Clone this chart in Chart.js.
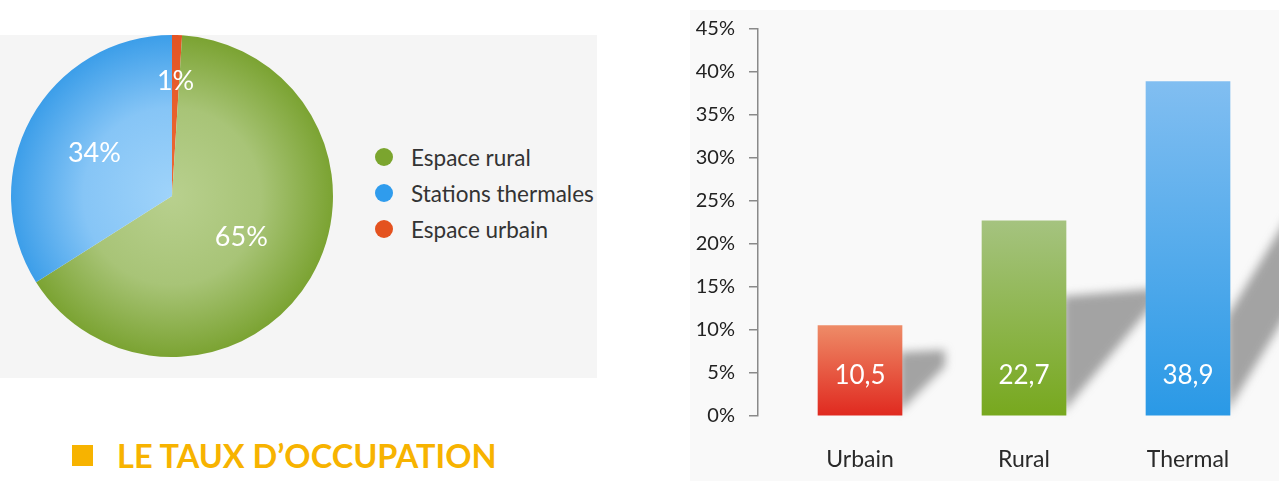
<!DOCTYPE html>
<html>
<head>
<meta charset="utf-8">
<script src="https://cdn.jsdelivr.net/npm/chart.js@4.4.1/dist/chart.umd.min.js"></script>
<style>
    body{margin:0;width:1279px;height:481px;background:#fff;position:relative;overflow:hidden;font-family:Lato,"Open Sans",sans-serif}
    #piePanel{position:absolute;left:0;top:35px;width:597px;height:343px;background:#f5f5f5}
    #pieBox{position:absolute;left:0;top:35px;width:344px;height:322px}
    #legend{position:absolute;left:375px;top:139px}
    .leg{display:flex;align-items:center;height:36px;font-size:22.5px;color:#333}
    .dot{width:18px;height:18px;border-radius:50%;margin-right:18px}
    #barPanel{position:absolute;left:690px;top:10px;width:589px;height:471px;background:#f9f9f9}
    #barBox{position:absolute;left:690px;top:0;width:589px;height:481px}
    #title{position:absolute;left:72px;top:436px;display:flex;align-items:center;color:#f7b300;font-weight:bold;font-size:32.5px}
    #title .sq{width:21px;height:21px;background:#f7b300;margin-right:24px}
</style>
</head>
<body>
<div id="piePanel"></div>
<div id="pieBox"><canvas id="pieChart"></canvas></div>
<div id="legend"></div>
<div id="barPanel"></div>
<div id="barBox"><canvas id="barChart"></canvas></div>
<div id="title"><span class="sq"></span><span>LE TAUX D’OCCUPATION</span></div>

<script>
// --------- DONNÉES ----------
// camembert (ordre horaire depuis midi)
const pieLabels = ["Espace urbain", "Espace rural", "Stations thermales"];
const pieValues = [1, 65, 34];
const legendOrder = ["Espace rural", "Stations thermales", "Espace urbain"];

// barres
const barLabels = ["Urbain", "Rural", "Thermal"];
const barValues = [10.5, 22.7, 38.9];
const yMin = 0, yMax = 45, yStep = 5;

// --------- STYLES ----------
const pieColors = {
    "Espace urbain":      {flat:"#e8602c", stops:["#ec6a35", "#e8602c", "#e35424"]},
    "Espace rural":       {flat:"#8db24a", stops:["#b8d08e", "#a8c477", "#7ba332"]},
    "Stations thermales": {flat:"#4aa8ee", stops:["#9fd3fa", "#86c5f6", "#3c9ee9"]}
};
const legendDot = {"Espace rural":"#7ba52e", "Stations thermales":"#2f9ced", "Espace urbain":"#e4521f"};
const labelRadius = [0.71, 0.5, 0.55];

const barColors = [
    ["#ee8b67", "#e0291f"],
    ["#a5c37f", "#77a81e"],
    ["#81bef1", "#2a99e6"]
];
// ombres portées : hauteur, longueur, pente haut, pente bas
const shadowShapes = [
    {h:60, w:46, top:0.05, bot:1.0},
    {h:116, w:90, top:0.08, bot:1.2},
    {h:95, w:70, top:1.65, bot:1.65}
];

// --------- LÉGENDE ----------
const legend = document.getElementById("legend");
legendOrder.forEach(name => {
    const row = document.createElement("div");
    row.className = "leg";
    const dot = document.createElement("span");
    dot.className = "dot";
    dot.style.background = legendDot[name];
    const txt = document.createElement("span");
    txt.textContent = name;
    row.appendChild(dot);
    row.appendChild(txt);
    legend.appendChild(row);
});

// --------- CAMEMBERT ----------
function pieFill(ctx){
    const c = ctx.chart, a = c.chartArea;
    const col = pieColors[pieLabels[ctx.dataIndex]];
    if(!a) return col.flat;
    const cx = (a.left + a.right) / 2, cy = (a.top + a.bottom) / 2;
    const r = Math.min(a.width, a.height) / 2;
    const g = c.ctx.createRadialGradient(cx, cy, 0, cx, cy, r);
    g.addColorStop(0, col.stops[0]);
    g.addColorStop(0.55, col.stops[1]);
    g.addColorStop(1, col.stops[2]);
    return g;
}

const pieText = {
    id: "pieText",
    afterDatasetsDraw(chart){
        const ctx = chart.ctx;
        const meta = chart.getDatasetMeta(0);
        ctx.save();
        ctx.fillStyle = "#fff";
        ctx.font = "27px Lato";
        ctx.textAlign = "center";
        ctx.textBaseline = "middle";
        meta.data.forEach((arc, i) => {
            const p = arc.getProps(["x", "y", "startAngle", "endAngle", "outerRadius"], true);
            const mid = (p.startAngle + p.endAngle) / 2;
            const rr = p.outerRadius * labelRadius[i];
            ctx.fillText(pieValues[i] + "%", p.x + Math.cos(mid) * rr, p.y + Math.sin(mid) * rr);
        });
        ctx.restore();
    }
};

new Chart(document.getElementById("pieChart"), {
    type: "pie",
    data: {
        labels: pieLabels,
        datasets: [{data: pieValues, backgroundColor: pieFill, borderWidth: 0}]
    },
    options: {
        responsive: true, maintainAspectRatio: false, animation: false,
        layout: {padding: 0},
        plugins: {legend: {display: false}, tooltip: {enabled: false}}
    },
    plugins: [pieText]
});

// --------- BARRES ----------
function barFill(ctx){
    const c = ctx.chart, a = c.chartArea;
    const cols = barColors[ctx.dataIndex];
    if(!a) return cols[1];
    const y = c.scales.y;
    const top = y.getPixelForValue(barValues[ctx.dataIndex]);
    const g = c.ctx.createLinearGradient(0, top, 0, y.getPixelForValue(0));
    g.addColorStop(0, cols[0]);
    g.addColorStop(1, cols[1]);
    return g;
}

const barShadow = {
    id: "barShadow",
    beforeDatasetsDraw(chart){
        const ctx = chart.ctx;
        const meta = chart.getDatasetMeta(0);
        ctx.save();
        ctx.filter = "blur(5px)";
        ctx.fillStyle = "rgba(105,105,105,0.6)";
        meta.data.forEach((bar, i) => {
            const s = shadowShapes[i];
            const R = bar.x + bar.width / 2 - 3;
            const B = bar.base - 3;
            ctx.beginPath();
            ctx.moveTo(R, B);
            ctx.lineTo(R, B - s.h);
            ctx.lineTo(R + s.w, B - s.h - s.w * s.top);
            ctx.lineTo(R + s.w, B - s.w * s.bot);
            ctx.closePath();
            ctx.fill();
        });
        ctx.restore();
    }
};

const barText = {
    id: "barText",
    afterDatasetsDraw(chart){
        const ctx = chart.ctx;
        const meta = chart.getDatasetMeta(0);
        ctx.save();
        ctx.fillStyle = "#fff";
        ctx.font = "26px Lato";
        ctx.textAlign = "center";
        ctx.textBaseline = "middle";
        meta.data.forEach((bar, i) => {
            ctx.fillText(barValues[i].toFixed(1).replace(".", ","), bar.x, bar.base - 40);
        });
        ctx.restore();
    }
};

new Chart(document.getElementById("barChart"), {
    type: "bar",
    data: {
        datasets: [{
            data: barValues.map((v, i) => ({x: i, y: v})),
            backgroundColor: barFill,
            borderWidth: 0,
            barThickness: 84
        }]
    },
    options: {
        responsive: true, maintainAspectRatio: false, animation: false,
        layout: {padding: {top: 29, right: 9, bottom: 11, left: 0}},
        plugins: {legend: {display: false}, tooltip: {enabled: false}},
        scales: {
            x: {
                type: "linear", min: -0.622, max: 2.5, offset: false,
                grid: {display: false, drawTicks: false}, border: {display: false},
                afterBuildTicks: s => { s.ticks = barLabels.map((_, i) => ({value: i})); },
                afterFit: s => { s.height = 54; },
                ticks: {callback: v => barLabels[v], padding: 30, font: {family: "Lato", size: 23}, color: "#2a2a2a", autoSkip: false, maxRotation: 0}
            },
            y: {
                min: yMin, max: yMax,
                afterFit: s => { s.width = 68; },
                ticks: {stepSize: yStep, callback: v => v + "%", padding: 14, font: {family: "Lato", size: 20}, color: "#222"},
                grid: {drawOnChartArea: false, tickLength: 9, color: "#8a8a8a", lineWidth: 1.5},
                border: {color: "#8a8a8a", width: 1.5}
            }
        }
    },
    plugins: [barShadow, barText]
});
</script>
</body>
</html>
